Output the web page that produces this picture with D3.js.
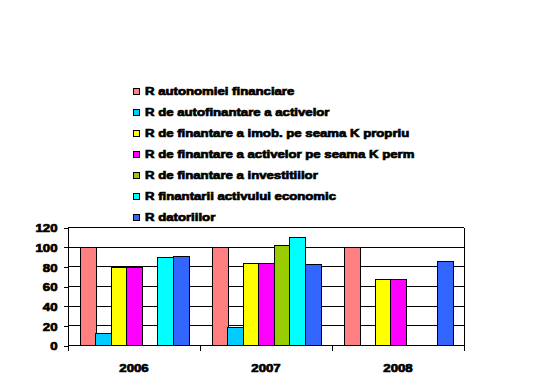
<!DOCTYPE html>
<html>
<head>
<meta charset="utf-8">
<script src="https://cdn.jsdelivr.net/npm/d3@7"></script>
<style>
	body { margin: 0; background: #fff; }
	svg text { font-family: "Liberation Sans", Arial, Helvetica, sans-serif; font-weight: 700; font-size: 11px; fill: #000; stroke: #000; stroke-width: 0.7px; }
</style>
</head>
<body>
<svg id="chart"></svg>
<script>

	var years = ['2006', '2007', '2008'];

	var seriesNames = [
		'R autonomiei financiare',
		'R de autofinantare a activelor',
		'R de finantare a imob. pe seama K propriu',
		'R de finantare a activelor pe seama K perm',
		'R de finantare a investitiilor',
		'R finantarii activului economic',
		'R datoriilor'
	];

	var seriesColors = ['#ff8080', '#00ccff', '#ffff00', '#ff00ff', '#99cc00', '#00ffff', '#3366ff'];

	// one array per series, values for 2006, 2007, 2008
	var rAutonomie = [100, 100, 100];
	var rAutofinantare = [12, 18, null];
	var rImobKPropriu = [79, 83, 67];
	var rActiveKPerm = [79, 83, 67];
	var rInvestitii = [null, 102, null];
	var rActivEconomic = [89, 110, null];
	var rDatorii = [91, 82, 85];

	var yTicks = [0, 20, 40, 60, 80, 100, 120];

	var seriesValues = [rAutonomie, rAutofinantare, rImobKPropriu, rActiveKPerm, rInvestitii, rActivEconomic, rDatorii];

	var width = 552,
		height = 389,
		stretch = 1.2; // excel fonts look wide

	var svg = d3.select('#chart')
		.attr('width', width)
		.attr('height', height);

	var plot = { left: 68, right: 464, top: 227, bottom: 345 };

	var x0 = d3.scaleBand()
		.domain(years)
		.range([plot.left, plot.right]);

	// gap width ~150% of a bar
	var bar = x0.bandwidth() / (seriesNames.length + 1.5);
	var x1 = d3.scaleBand()
		.domain(d3.range(seriesNames.length))
		.range([bar * 0.75, x0.bandwidth() - bar * 0.75]);

	var y = d3.scaleLinear()
		.domain([0, 120])
		.range([plot.bottom, plot.top]);

	// gridlines
	svg.append('g')
		.selectAll('line')
		.data(yTicks)
		.enter().append('line')
		.attr('x1', plot.left)
		.attr('x2', plot.right)
		.attr('y1', function(d) { return Math.round(y(d)) + 0.5; })
		.attr('y2', function(d) { return Math.round(y(d)) + 0.5; })
		.style('stroke', '#000')
		.style('shape-rendering', 'crispEdges');

	// right border of plot area
	svg.append('line')
		.attr('x1', plot.right + 0.5).attr('x2', plot.right + 0.5)
		.attr('y1', Math.round(y(120)) + 0.5).attr('y2', Math.round(y(0)) + 0.5)
		.style('stroke', '#000')
		.style('shape-rendering', 'crispEdges');

	// bars
	var rows = years.map(function(yr, i) {
		return seriesValues.map(function(vals, s) { return { year: yr, s: s, value: vals[i] }; });
	});

	svg.append('g')
		.selectAll('g')
		.data(rows)
		.enter().append('g')
		.attr('transform', function(d, i) { return 'translate(' + x0(years[i]) + ',0)'; })
		.selectAll('rect')
		.data(function(d) { return d.filter(function(e) { return e.value != null; }); })
		.enter().append('rect')
		.attr('x', function(d) { return Math.round(x1(d.s)) + 0.5; })
		.attr('width', Math.round(x1.bandwidth()))
		.attr('y', function(d) { return Math.round(y(d.value)) + 0.5; })
		.attr('height', function(d) { return Math.round(y(0)) - Math.round(y(d.value)); })
		.style('fill', function(d) { return seriesColors[d.s]; })
		.style('stroke', '#000')
		.style('stroke-width', 1)
		.style('shape-rendering', 'crispEdges');

	// y axis
	var yAxis = d3.axisLeft(y).tickValues(yTicks).tickSize(5).tickPadding(6);
	var gy = svg.append('g')
		.attr('transform', 'translate(' + (plot.left + 0.5) + ',0.5)')
		.call(yAxis);

	// x axis, ticks between categories
	var xAxis = d3.axisBottom(x0).tickSize(0).tickPadding(19);
	var gx = svg.append('g')
		.attr('transform', 'translate(0,' + (Math.round(y(0)) + 0.5) + ')')
		.call(xAxis);

	gx.selectAll('.sep')
		.data(x0.domain().concat(['end']))
		.enter().append('line')
		.attr('class', 'sep')
		.attr('x1', function(d, i) { return plot.left + i * x0.bandwidth() + 0.5; })
		.attr('x2', function(d, i) { return plot.left + i * x0.bandwidth() + 0.5; })
		.attr('y1', 0).attr('y2', 5);

	d3.selectAll('.domain, .tick line, .sep')
		.style('stroke', '#000')
		.style('shape-rendering', 'crispEdges');

	gx.select('.domain').remove();
	svg.append('line')
		.attr('x1', plot.left).attr('x2', plot.right + 1)
		.attr('y1', Math.round(y(0)) + 0.5).attr('y2', Math.round(y(0)) + 0.5)
		.style('stroke', '#000').style('shape-rendering', 'crispEdges');

	gy.select('.domain').attr('d', 'M0,' + (Math.round(y(120))) + 'V' + (Math.round(y(0)) + 5));

	// stretch tick text
	d3.selectAll('.tick text')
		.attr('transform', function() {
			var t = d3.select(this);
			var tx = +t.attr('x') || 0;
			return 'translate(' + tx + ',0) scale(' + stretch + ',1) translate(' + (-tx) + ',0)';
		});
	gy.selectAll('.tick text').attr('dy', '0.38em');

	// legend
	var legend = svg.append('g')
		.selectAll('g')
		.data(seriesNames)
		.enter().append('g')
		.attr('transform', function(d, i) { return 'translate(133,' + (87.5 + i * 21) + ')'; });

	legend.append('rect')
		.attr('x', 0.5).attr('y', 0.5)
		.attr('width', 6).attr('height', 6)
		.style('fill', function(d, i) { return seriesColors[i]; })
		.style('stroke', '#000')
		.style('shape-rendering', 'crispEdges');

	legend.append('text')
		.attr('transform', 'translate(12,7.5) scale(' + stretch + ',1)')
		.text(function(d) { return d; });

</script>
</body>
</html>
